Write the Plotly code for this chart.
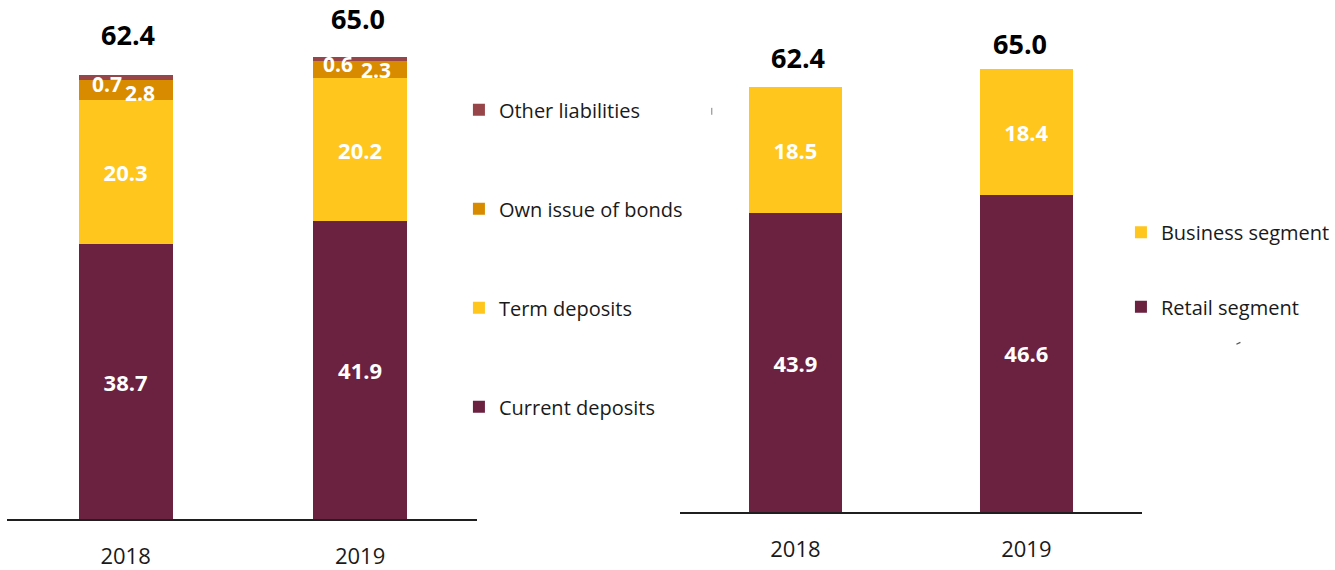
import plotly.graph_objects as go

# ---- data -------------------------------------------------------------
years = ["2018", "2019"]

# liabilities structure (left panel)
current_deposits = [38.7, 41.9]
term_deposits = [20.3, 20.2]
own_issue_of_bonds = [2.8, 2.3]
other_liabilities = [0.7, 0.6]
liabilities_total = [62.4, 65.0]

# deposits by segment (right panel)
retail_segment = [43.9, 46.6]
business_segment = [18.5, 18.4]
segment_total = [62.4, 65.0]

# ---- styling ----------------------------------------------------------
MAROON = "#6B2140"
YELLOW = "#FFC61E"
ORANGE = "#D98B00"
ROSE = "#974549"
FONT = "Open Sans"
W, H = 1335, 570


def fmt(vals, min_inside=5):
    return [f"{v:.1f}" if v >= min_inside else "" for v in vals]


fig = go.Figure()

left_series = [
    ("Current deposits", current_deposits, MAROON, 4),
    ("Term deposits", term_deposits, YELLOW, 3),
    ("Own issue of bonds", own_issue_of_bonds, ORANGE, 2),
    ("Other liabilities", other_liabilities, ROSE, 1),
]
for name, vals, col, rank in left_series:
    fig.add_trace(go.Bar(
        x=years, y=vals, name=name, marker=dict(color=col, line=dict(width=0)),
        text=fmt(vals), textposition="inside", insidetextanchor="middle",
        textangle=0, textfont=dict(family=FONT, size=22, color="white", weight="bold"),
        width=0.4, xaxis="x", yaxis="y", legend="legend", legendgroup=name,
        legendrank=rank, hoverinfo="x+y+name",
    ))

right_series = [
    ("Retail segment", retail_segment, MAROON, 2),
    ("Business segment", business_segment, YELLOW, 1),
]
for name, vals, col, rank in right_series:
    fig.add_trace(go.Bar(
        x=years, y=vals, name=name, marker=dict(color=col, line=dict(width=0)),
        text=fmt(vals), textposition="inside", insidetextanchor="middle",
        textangle=0, textfont=dict(family=FONT, size=22, color="white", weight="bold"),
        width=0.4, xaxis="x2", yaxis="y2", legend="legend2", legendgroup=name,
        legendrank=rank, hoverinfo="x+y+name",
    ))

annotations = []

# totals above the stacks (x given as category index)
total_shift_left = [(2, 41), (-2, 39)]
total_shift_right = [(3, 29), (-6, 26)]
for i in range(len(years)):
    dx, dy = total_shift_left[i]
    annotations.append(dict(
        x=i, y=liabilities_total[i], xref="x", yref="y", text=f"{liabilities_total[i]:.1f}",
        showarrow=False, yanchor="middle", xshift=dx, yshift=dy,
        font=dict(family=FONT, size=27, color="black", weight="bold")))
    dx, dy = total_shift_right[i]
    annotations.append(dict(
        x=i, y=segment_total[i], xref="x2", yref="y2", text=f"{segment_total[i]:.1f}",
        showarrow=False, yanchor="middle", xshift=dx, yshift=dy,
        font=dict(family=FONT, size=27, color="black", weight="bold")))

# labels of the thin top segments, set beside each other
small_offsets = {
    ("bonds", 0): (14, -3), ("bonds", 1): (16, 0),
    ("other", 0): (-19, -7), ("other", 1): (-22, -5),
}
for i in range(len(years)):
    base = current_deposits[i] + term_deposits[i]
    for key, val, start in (("bonds", own_issue_of_bonds[i], base),
                            ("other", other_liabilities[i], base + own_issue_of_bonds[i])):
        dx, dy = small_offsets[(key, i)]
        annotations.append(dict(
            x=i, y=start + val / 2, xref="x", yref="y", text=f"{val:.1f}",
            showarrow=False, xshift=dx, yshift=dy,
            font=dict(family=FONT, size=21, color="white", weight="bold")))

axis_common = dict(
    type="category", showline=True, linecolor="#1f1f1f",
    linewidth=1.5, ticks="", showgrid=False, zeroline=False,
    tickfont=dict(family=FONT, size=22, color="#1a1a1a"), ticklabelstandoff=17,
    fixedrange=True,
)

fig.update_layout(
    width=W, height=H, barmode="stack",
    margin=dict(l=0, r=0, t=0, b=0),
    paper_bgcolor="white", plot_bgcolor="white",
    font=dict(family=FONT, color="#1a1a1a"),
    xaxis=dict(domain=[7 / W, 479 / W], anchor="y", range=[-0.506, 1.498], **axis_common),
    yaxis=dict(domain=[1 - 524.5 / H, 1], range=[0, 524.5 / 7.18], visible=False, fixedrange=True),
    xaxis2=dict(domain=[683 / W, 1147 / W], anchor="y2", range=[-0.5, 1.5], **axis_common),
    yaxis2=dict(domain=[1 - 517.7 / H, 1], range=[0, 517.7 / 6.89], visible=False, fixedrange=True),
    legend=dict(
        x=461 / W, xanchor="left", y=1 - 91.3 / H, yanchor="top",
        traceorder="grouped", tracegroupgap=70,
        font=dict(family=FONT, size=20, color="#1a1a1a"), bgcolor="rgba(0,0,0,0)",
    ),
    legend2=dict(
        x=1126 / W, xanchor="left", y=1 - 215 / H, yanchor="top",
        traceorder="grouped", tracegroupgap=45.5,
        font=dict(family=FONT, size=20, color="#1a1a1a"), bgcolor="rgba(0,0,0,0)",
    ),
    annotations=annotations,
    shapes=[
        dict(type="line", xref="paper", yref="paper", x0=715 / W, x1=715 / W,
             y0=1 - 116 / H, y1=1 - 109 / H, line=dict(color="#808080", width=1)),
        dict(type="line", xref="paper", yref="paper", x0=1242 / W, x1=1246 / W,
             y0=1 - 348 / H, y1=1 - 346 / H, line=dict(color="#555555", width=1.2)),
    ],
    showlegend=True,
)

fig.write_html("out.html")
